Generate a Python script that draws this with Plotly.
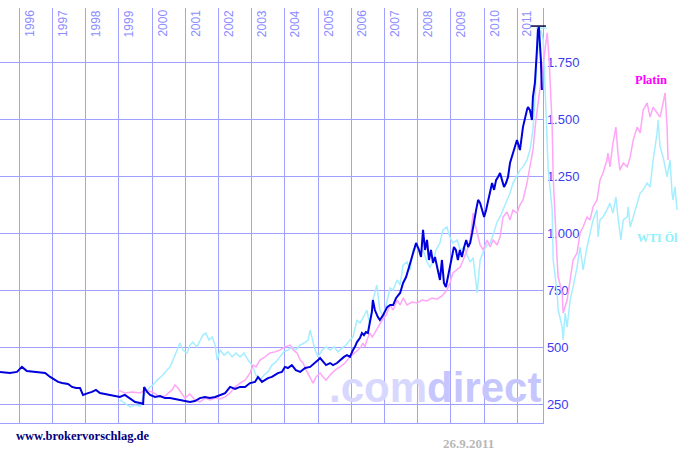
import plotly.graph_objects as go

# ---------------- data ----------------
years = list(range(1996, 2012))
y_ticks = [250, 500, 750, 1000, 1250, 1500, 1750]
y_ticktext = ["250", "500", "750", "1.000", "1.250", "1.500", "1.750"]

# Gold (USD/oz), decimal year
gold_t = [1995.42, 1995.72, 1995.93,
          1996.08, 1996.23, 1996.47, 1996.62, 1996.78, 1996.93,
          1997.08, 1997.17, 1997.29, 1997.47, 1997.59, 1997.71, 1997.83, 1997.92,
          1998.07, 1998.19, 1998.31, 1998.43, 1998.58, 1998.73, 1998.88,
          1999.03, 1999.18, 1999.34, 1999.49, 1999.64, 1999.73, 1999.76, 1999.85, 1999.94,
          2000.09, 2000.24, 2000.39, 2000.54, 2000.69, 2000.84, 2000.99,
          2001.14, 2001.29, 2001.44, 2001.59, 2001.74, 2001.90,
          2002.05, 2002.20, 2002.35, 2002.50, 2002.65, 2002.80, 2002.95,
          2003.10, 2003.19, 2003.31, 2003.49, 2003.61, 2003.79, 2003.91,
          2004.00, 2004.09, 2004.21, 2004.33, 2004.46, 2004.61, 2004.76, 2004.91,
          2005.00, 2005.06, 2005.15, 2005.24, 2005.36, 2005.45, 2005.57, 2005.66, 2005.78, 2005.87, 2005.96,
          2006.05, 2006.11, 2006.17, 2006.26, 2006.32, 2006.38, 2006.44, 2006.50, 2006.56, 2006.62, 2006.65,
          2006.71, 2006.80, 2006.86, 2006.96,
          2007.08, 2007.17, 2007.26, 2007.35, 2007.47, 2007.56, 2007.65, 2007.74, 2007.83, 2007.89, 2007.95,
          2008.04, 2008.10, 2008.16, 2008.22, 2008.28, 2008.34, 2008.40, 2008.46, 2008.52, 2008.61, 2008.67,
          2008.73, 2008.79, 2008.85, 2008.91, 2008.97,
          2009.03, 2009.09, 2009.15, 2009.21, 2009.27, 2009.33, 2009.40, 2009.46, 2009.52, 2009.58, 2009.64,
          2009.70, 2009.76, 2009.82, 2009.88, 2009.94,
          2010.00, 2010.06, 2010.12, 2010.18, 2010.24, 2010.30, 2010.36, 2010.42, 2010.48, 2010.54, 2010.60,
          2010.66, 2010.72, 2010.78, 2010.84, 2010.90, 2010.99,
          2011.08, 2011.17, 2011.29, 2011.32, 2011.38, 2011.44, 2011.47, 2011.53, 2011.59, 2011.62, 2011.65,
          2011.68, 2011.71, 2011.74]
gold_v = [391, 386, 391,
          413, 395, 391, 391, 386, 369,
          355, 347, 342, 338, 325, 320, 320, 290,
          298, 303, 312, 298, 294, 290, 285,
          281, 290, 272, 259, 254, 250, 325, 303, 290,
          281, 285, 276, 276, 272, 268, 263,
          259, 263, 276, 281, 276, 281,
          290, 298, 325, 316, 325, 325, 342,
          347, 369, 347, 364, 369, 386, 391,
          413, 408, 421, 399, 391, 408, 413, 430,
          443, 452, 435, 421, 430, 421, 430, 443, 457, 465, 457,
          487, 501, 522, 540, 562, 553, 566, 562, 610, 654, 707,
          663, 632, 619, 641,
          676, 685, 685, 716, 738, 782, 808, 852, 896, 927, 958,
          927, 896, 1015, 927, 971, 883, 927, 870, 896, 826, 795,
          883, 782, 764, 808, 852,
          896, 940, 927, 883, 927, 896, 940, 971, 940, 958, 1002,
          1059, 1103, 1147, 1133, 1103,
          1072, 1103, 1147, 1191, 1221, 1191, 1234, 1248, 1265, 1234, 1204,
          1221, 1248, 1309, 1336, 1366, 1410,
          1366, 1467, 1542, 1555, 1542, 1498, 1599, 1661, 1806, 1894, 1907,
          1837, 1762, 1630]
gold_max_t = [2011.63]
gold_max_v = [1911]

# Platin (scaled), as drawn
plat_t = [1998.97, 1999.19, 1999.40, 1999.64, 1999.79,
          2000.00, 2000.24, 2000.39, 2000.60, 2000.69, 2000.78, 2000.87, 2000.99,
          2001.14, 2001.29, 2001.44, 2001.60, 2001.75, 2001.90,
          2002.05, 2002.20, 2002.35, 2002.50, 2002.65, 2002.80, 2002.95,
          2003.04, 2003.13, 2003.25, 2003.40, 2003.55, 2003.70, 2003.85,
          2004.00, 2004.16, 2004.25, 2004.37, 2004.46, 2004.55, 2004.64, 2004.76, 2004.85, 2004.94,
          2005.06, 2005.15, 2005.24, 2005.36, 2005.51, 2005.66, 2005.81, 2005.96,
          2006.11, 2006.20, 2006.29, 2006.35, 2006.41, 2006.47, 2006.56, 2006.63, 2006.72, 2006.81, 2006.93,
          2007.05, 2007.17, 2007.26, 2007.38, 2007.47, 2007.56, 2007.68, 2007.83, 2007.98,
          2008.13, 2008.28, 2008.43, 2008.58, 2008.73, 2008.88, 2008.97,
          2009.06, 2009.19, 2009.28, 2009.37, 2009.49, 2009.58, 2009.67, 2009.73, 2009.79, 2009.88, 2009.97,
          2010.09, 2010.18, 2010.27, 2010.39, 2010.48, 2010.57, 2010.69, 2010.78, 2010.87, 2010.99,
          2011.08, 2011.17, 2011.29, 2011.38, 2011.47, 2011.56, 2011.66, 2011.75, 2011.84, 2011.90, 2011.96, 2011.99,
          2012.05, 2012.08, 2012.14, 2012.20, 2012.23, 2012.35, 2012.38, 2012.44, 2012.50, 2012.59, 2012.68,
          2012.80, 2012.89, 2012.98,
          2013.10, 2013.19, 2013.28, 2013.40, 2013.49, 2013.58, 2013.70, 2013.73, 2013.79, 2013.88, 2013.97,
          2014.03, 2014.09, 2014.19, 2014.31, 2014.40, 2014.49, 2014.61, 2014.70, 2014.79, 2014.91,
          2015.00, 2015.09, 2015.21, 2015.30, 2015.39, 2015.45, 2015.51, 2015.54]
plat_v = [312, 298, 303, 298, 312,
          303, 281, 285, 312, 334, 320, 303, 276,
          294, 268, 259, 276, 268, 276,
          272, 281, 298, 325, 342, 355, 386,
          421, 413, 443, 457, 474, 479, 487,
          501, 509, 487, 474, 443, 430, 399, 369, 342, 369,
          386, 369, 355, 377, 399, 413, 430, 457,
          474, 487, 501, 518, 501, 531, 562, 544, 566, 588, 619,
          641, 685, 663, 707, 685, 716, 685, 698, 694,
          707, 703, 716, 711, 725, 751, 782,
          826, 839, 852, 883, 927, 971, 1089, 1037, 1002, 949, 927,
          971, 940, 971, 949, 984, 1072, 1094, 1059, 1103, 1089,
          1125, 1147, 1221, 1292, 1366, 1498, 1608, 1718, 1828, 1881, 1762, 1674,
          1467, 1248, 1028, 883, 808, 738, 650, 685, 707, 795, 883,
          914, 1002, 1028,
          1072, 1059, 1116, 1147, 1234, 1265, 1322, 1353, 1292, 1397, 1467,
          1353, 1278, 1309, 1292, 1336, 1410, 1467, 1441, 1542, 1573,
          1511, 1555, 1529, 1511, 1573, 1617, 1467, 1322]

# WTI Oel (scaled), as drawn
wti_t = [1999.03, 1999.19, 1999.34, 1999.49, 1999.64, 1999.73, 1999.82, 1999.94, 2000.03, 2000.15,
         2000.30, 2000.45, 2000.54, 2000.63, 2000.72, 2000.84, 2000.93, 2001.05, 2001.14, 2001.23,
         2001.35, 2001.44, 2001.53, 2001.62, 2001.71, 2001.81, 2001.90, 2001.96, 2002.05, 2002.17,
         2002.29, 2002.41, 2002.53, 2002.65, 2002.77, 2002.89, 2003.01, 2003.13, 2003.25, 2003.37,
         2003.49, 2003.61, 2003.73, 2003.85, 2003.97, 2004.09, 2004.21, 2004.33, 2004.46, 2004.58,
         2004.70, 2004.76, 2004.82, 2004.91, 2005.00, 2005.12, 2005.24, 2005.36, 2005.48, 2005.60,
         2005.72, 2005.84, 2005.96, 2006.05, 2006.17, 2006.26, 2006.35, 2006.47, 2006.56, 2006.65,
         2006.77, 2006.86, 2006.96, 2007.08, 2007.17, 2007.26, 2007.38, 2007.47, 2007.56, 2007.68,
         2007.77, 2007.86, 2007.98, 2008.07, 2008.16, 2008.28, 2008.37, 2008.46, 2008.55, 2008.67,
         2008.76, 2008.88, 2008.97, 2009.06, 2009.19, 2009.28, 2009.40, 2009.49, 2009.58, 2009.67,
         2009.73, 2009.79, 2009.88, 2010.00, 2010.09, 2010.18, 2010.27, 2010.39, 2010.48, 2010.57,
         2010.69, 2010.78, 2010.87, 2010.99, 2011.08, 2011.17, 2011.29, 2011.38, 2011.47, 2011.53,
         2011.59, 2011.66, 2011.71, 2011.78, 2011.84, 2011.90, 2011.93, 2011.99, 2012.05, 2012.08,
         2012.14, 2012.20, 2012.23, 2012.35, 2012.38, 2012.44, 2012.50, 2012.59, 2012.68, 2012.80,
         2012.89, 2012.98, 2013.10, 2013.19, 2013.28, 2013.40, 2013.43, 2013.49, 2013.58, 2013.70,
         2013.79, 2013.88, 2013.97, 2014.03, 2014.12, 2014.19, 2014.31, 2014.34, 2014.40, 2014.49,
         2014.61, 2014.70, 2014.79, 2014.91, 2015.00, 2015.09, 2015.21, 2015.24, 2015.30, 2015.39,
         2015.51, 2015.60, 2015.66, 2015.69, 2015.75, 2015.81]
wti_v = [268, 250, 237, 246, 241, 281, 303, 325, 334, 355,
         373, 399, 413, 443, 479, 518, 487, 474, 509, 522,
         501, 531, 553, 562, 531, 544, 509, 443, 487, 465,
         479, 457, 474, 457, 474, 443, 421, 377, 355, 377,
         391, 421, 435, 457, 479, 487, 501, 487, 509, 518,
         531, 575, 544, 487, 457, 487, 501, 487, 501, 479,
         496, 509, 531, 544, 619, 606, 628, 663, 597, 707,
         773, 663, 632, 707, 760, 751, 795, 773, 861, 874,
         839, 927, 940, 918, 927, 874, 852, 874, 927, 958,
         1015, 1028, 984, 958, 971, 927, 940, 905, 874, 892,
         817, 738, 883, 927, 949, 958, 993, 1050, 1072, 1103,
         1147, 1177, 1221, 1256, 1278, 1292, 1322, 1366, 1454, 1586,
         1762, 1872, 1894, 1850, 1608, 1397, 1278, 1191, 1103, 883,
         817, 738, 663, 588, 531, 650, 588, 707, 764, 852,
         940, 839, 940, 1002, 1059, 1103, 984, 1059, 1072, 1103,
         1133, 1089, 1160, 1072, 971, 1059, 1072, 1116, 1028, 1072,
         1133, 1177, 1191, 1221, 1204, 1322, 1441, 1498, 1380, 1336,
         1248, 1322, 1177, 1147, 1204, 1103]
wti_max_t = [2011.72]
wti_max_v = [1902]

assert len(gold_t) == len(gold_v)
assert len(plat_t) == len(plat_v)
assert len(wti_t) == len(wti_v)

# ---------------- style ----------------
GRID = "#a0a0ff"
X0, X_END, X_FULL = 1995.42, 2011.78, 2016.02
Y_RANGE = [166.5, 1990.4]
SANS = "Liberation Sans, Arial, sans-serif"
SERIF = "Liberation Serif, Times New Roman, serif"

fig = go.Figure()
fig.add_trace(go.Scatter(x=wti_t, y=wti_v, xaxis="x2", yaxis="y2", mode="lines",
                         line=dict(color="#a6eeff", width=1.5), hoverinfo="skip"))
fig.add_trace(go.Scatter(x=plat_t, y=plat_v, xaxis="x2", yaxis="y2", mode="lines",
                         line=dict(color="#ffa6f6", width=1.5), hoverinfo="skip"))
fig.add_trace(go.Scatter(x=wti_max_t, y=wti_max_v, xaxis="x2", yaxis="y2", mode="markers",
                         marker=dict(symbol="line-ew", size=8, line=dict(color="#a6eeff", width=1.5)),
                         hoverinfo="skip"))
fig.add_trace(go.Scatter(x=gold_t, y=gold_v, xaxis="x2", yaxis="y2", mode="lines",
                         line=dict(color="#0000dd", width=2), hoverinfo="skip"))
fig.add_trace(go.Scatter(x=gold_max_t, y=gold_max_v, xaxis="x2", yaxis="y2", mode="markers",
                         marker=dict(symbol="line-ew", size=11, line=dict(color="#000044", width=1.5)),
                         hoverinfo="skip"))

annotations = []
for yr in years:
    annotations.append(dict(x=yr, y=1, xref="x", yref="paper", text=str(yr), showarrow=False,
                            textangle=-90, xanchor="left", yanchor="top", xshift=1,
                            font=dict(family=SANS, size=12, color="#8c8cff")))
annotations += [
    dict(x=0.478, y=0.085, xref="paper", yref="paper", xanchor="left", yanchor="middle", showarrow=False,
         text="<span style='color:#d8d8ff'>.com</span><span style='color:#c6c6ff'>direct</span>",
         font=dict(family=SANS, size=42, color="#c6c6ff", weight="bold")),
    dict(x=651 / 684, y=(423 - 80) / 415, xref="paper", yref="paper", xanchor="center", yanchor="middle",
         showarrow=False, text="Platin",
         font=dict(family=SERIF, size=12.5, color="#ff00ff", weight="bold")),
    dict(x=657 / 684, y=(423 - 238) / 415, xref="paper", yref="paper", xanchor="center", yanchor="middle",
         showarrow=False, text="WTI Öl",
         font=dict(family=SERIF, size=12, color="#8ef0fa", weight="bold")),
    dict(x=14 / 684, y=(423 - 436) / 415, xref="paper", yref="paper", xanchor="left", yanchor="middle",
         showarrow=False, text="www.brokervorschlag.de",
         font=dict(family=SERIF, size=12.5, color="#000080", weight="bold")),
    dict(x=468 / 684, y=(423 - 443) / 415, xref="paper", yref="paper", xanchor="center", yanchor="middle",
         showarrow=False, text="26.9.2011",
         font=dict(family=SERIF, size=13, color="#b8b8b8", weight="bold")),
]

fig.update_layout(
    width=684, height=455,
    margin=dict(l=0, r=0, t=8, b=32),
    paper_bgcolor="white", plot_bgcolor="rgba(0,0,0,0)",
    showlegend=False,
    xaxis=dict(domain=[0, 543.3 / 684], range=[X0, X_END], tickvals=years, showticklabels=False,
               ticks="", showgrid=True, gridcolor=GRID, gridwidth=1, showline=True, linecolor=GRID,
               linewidth=1, zeroline=False, anchor="y", fixedrange=True),
    yaxis=dict(domain=[0, 1], range=Y_RANGE, side="right", tickvals=y_ticks, ticktext=y_ticktext,
               ticks="", showgrid=True, gridcolor=GRID, gridwidth=1,
               showline=True, linecolor=GRID, linewidth=1, zeroline=False, anchor="x",
               tickfont=dict(family=SANS, size=13, color="#3c3cf0"), fixedrange=True),
    xaxis2=dict(domain=[0, 1], range=[X0, X_FULL], visible=False, anchor="y2", fixedrange=True),
    yaxis2=dict(domain=[0, 1], range=Y_RANGE, visible=False, anchor="x2", fixedrange=True),
    annotations=annotations,
)

fig.write_html("out.html", config={"displayModeBar": False},
               post_script="document.body.style.margin='0px';")
